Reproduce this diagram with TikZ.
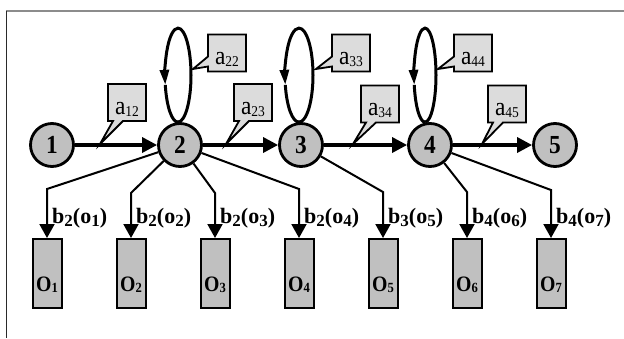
\documentclass[tikz,border=0pt]{standalone}
\usepackage{fontspec}
\setmainfont[FakeStretch=0.9]{Liberation Serif}
\newfontfamily\wideserif{Liberation Serif}
\usetikzlibrary{arrows.meta,shapes.callouts,calc}

\definecolor{stategray}{HTML}{C0C0C0}
\definecolor{calloutgray}{HTML}{DCDCDC}
\definecolor{framegray}{HTML}{8C8C8C}
\definecolor{framedark}{HTML}{2A2A2A}

% text helpers
\newcommand\statenum[1]{{\fontsize{26}{26}\selectfont\bfseries #1}}
\newcommand\aprob[1]{{\fontsize{26}{26}\selectfont a}\raisebox{-2pt}{\fontsize{15}{15}\selectfont #1}}
\newcommand\obsname[1]{{\fontsize{22}{22}\selectfont\bfseries O\raisebox{-1pt}{\fontsize{14}{14}\selectfont #1}}}
\newcommand\emis[2]{{\wideserif\fontsize{22}{22}\selectfont\bfseries b\raisebox{-3pt}{\fontsize{17}{17}\selectfont #1}(o\raisebox{-3pt}{\fontsize{17}{17}\selectfont #2})}}

\begin{document}
\begin{tikzpicture}[x=1pt,y=-1pt,
  state/.style={circle, draw, line width=2.8pt, fill=stategray,
    minimum size=43pt, inner sep=0pt},
  obsbox/.style={rectangle, draw, line width=2pt, fill=stategray,
    minimum width=29pt, minimum height=69pt, inner sep=0pt,
    text height=35pt, text depth=0pt},
  prob/.style={rectangle callout, draw, line width=1.8pt, fill=calloutgray,
    minimum width=38pt, minimum height=37pt, inner sep=0pt,
    text height=23pt, text depth=0pt, callout pointer width=10pt},
  trans/.style={line width=3.3pt, -{Triangle[length=15pt,width=15pt]}},
  emit/.style={line width=2pt, -{Triangle[length=14pt,width=15pt]}},
  loopline/.style={line width=3pt},
  looptip/.style={loopline, -{Triangle[length=15pt,width=9pt]}},
  emlabel/.style={anchor=west, inner sep=0pt}
]
\useasboundingbox (0,0) rectangle (624,338);

% frame
\draw[framegray, line width=2pt] (6,11) -- (624,11);
\draw[framedark, line width=1.5pt] (6.5,10.5) -- (6.5,338);

% hidden states
\node[state] (n1) at (52,145)  {\statenum{1}};
\node[state] (n2) at (180,145) {\statenum{2}};
\node[state] (n3) at (301,145) {\statenum{3}};
\node[state] (n4) at (430,145) {\statenum{4}};
\node[state] (n5) at (555,145) {\statenum{5}};

% transitions
\draw[trans] (n1) -- (n2);
\draw[trans] (n2) -- (n3);
\draw[trans] (n3) -- (n4);
\draw[trans] (n4) -- (n5);

% self loops
\coordinate (l2) at ($(n2.north)+(-2,0)$);
\coordinate (l3) at ($(n3.north)+(-2,0)$);
\coordinate (l4) at ($(n4.north)+(-5,0)$);
\draw[looptip] (l2) arc[start angle=270, end angle=552, x radius=13pt, y radius=47pt];
\draw[loopline] (l2) arc[start angle=270, end angle=192, x radius=13pt, y radius=47pt];
\draw[looptip] (l3) arc[start angle=270, end angle=552, x radius=14pt, y radius=47pt];
\draw[loopline] (l3) arc[start angle=270, end angle=192, x radius=14pt, y radius=47pt];
\draw[looptip] (l4) arc[start angle=270, end angle=552, x radius=11pt, y radius=47pt];
\draw[loopline] (l4) arc[start angle=270, end angle=192, x radius=11pt, y radius=47pt];

% callout anchors on the edges
\coordinate (p12) at (100,144);
\coordinate (p22) at (193,69);
\coordinate (p23) at (226,144);
\coordinate (p33) at (316,69);
\coordinate (p34) at (353,144);
\coordinate (p44) at (438,69);
\coordinate (p45) at (482,144);

% transition probabilities
\node[prob, callout absolute pointer={(p12)}] (c12) at (127,102.5) {\aprob{12}};
\node[prob, callout absolute pointer={(p22)}] (c22) at (227,53)    {\aprob{22}};
\node[prob, callout absolute pointer={(p23)}] (c23) at (253,102.5) {\aprob{23}};
\node[prob, callout absolute pointer={(p33)}] (c33) at (351,53)    {\aprob{33}};
\node[prob, callout absolute pointer={(p34)}] (c34) at (380,104)   {\aprob{34}};
\node[prob, callout absolute pointer={(p44)}] (c44) at (473,53)    {\aprob{44}};
\node[prob, callout absolute pointer={(p45)}] (c45) at (507,104)   {\aprob{45}};

% observations
\node[obsbox] (o1) at (47,273.5)  {\obsname{1}};
\node[obsbox] (o2) at (131,273.5) {\obsname{2}};
\node[obsbox] (o3) at (215,273.5) {\obsname{3}};
\node[obsbox] (o4) at (299,273.5) {\obsname{4}};
\node[obsbox] (o5) at (383,273.5) {\obsname{5}};
\node[obsbox] (o6) at (467,273.5) {\obsname{6}};
\node[obsbox] (o7) at (551,273.5) {\obsname{7}};

% emission bends
\coordinate (b1) at (47,189);
\coordinate (b2) at (131,193);
\coordinate (b3) at (215,193);
\coordinate (b4) at (299,189);
\coordinate (b5) at (383,192);
\coordinate (b6) at (467,192);
\coordinate (b7) at (551,190);

\draw[emit] (n2) -- (b1) -- (o1);
\draw[emit] (n2) -- (b2) -- (o2);
\draw[emit] (n2) -- (b3) -- (o3);
\draw[emit] (n2) -- (b4) -- (o4);
\draw[emit] (n3) -- (b5) -- (o5);
\draw[emit] (n4) -- (b6) -- (o6);
\draw[emit] (n4) -- (b7) -- (o7);

% emission probabilities
\node[emlabel] (e1) at (52,218)  {\emis{2}{1}};
\node[emlabel] (e2) at (136,218) {\emis{2}{2}};
\node[emlabel] (e3) at (220,218) {\emis{2}{3}};
\node[emlabel] (e4) at (304,218) {\emis{2}{4}};
\node[emlabel] (e5) at (388,218) {\emis{3}{5}};
\node[emlabel] (e6) at (472,218) {\emis{4}{6}};
\node[emlabel] (e7) at (556,218) {\emis{4}{7}};
\end{tikzpicture}
\end{document}
